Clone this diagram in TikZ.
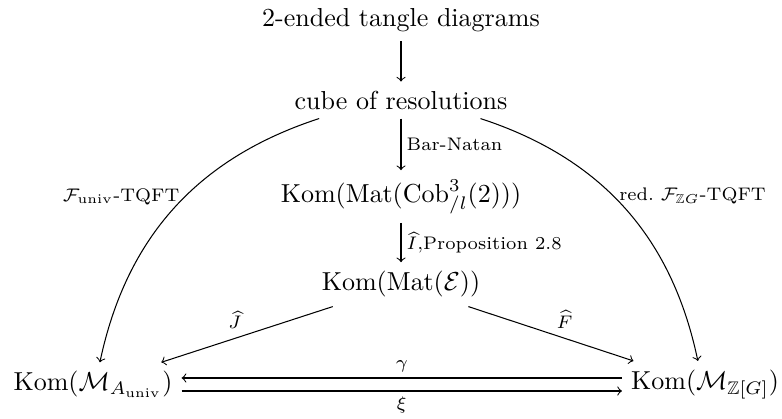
\documentclass[tikz,border=0pt]{standalone}
\usepackage{amsmath,amssymb}
\usetikzlibrary{arrows,calc}

\begin{document}
\begin{tikzpicture}[->, >=to, thin, x=0.3846pt, y=-0.3846pt]
        \tikzstyle{obj}=[inner sep=0.3333em]
        \tikzstyle{lbl}=[font=\scriptsize, inner sep=2pt]
        \useasboundingbox (0,0) rectangle (782,419);
        \node[obj]                                    (tangle) at (401,20.5) {2-ended tangle diagrams};
        \node[obj, below of=tangle, node distance=30.6pt] (cube)  {cube of resolutions};
        \node[obj, below of=cube, node distance=37.1pt]   (cob)   {$\mathrm{Kom}(\mathrm{Mat}(\mathrm{Cob}^3_{/l}(2)))$};
        \node[obj, below of=cob, node distance=33.8pt]    (mate)  {$\mathrm{Kom}(\mathrm{Mat}(\mathcal{E}))$};
        \node[obj]                                    (Auniv) at (93,384.5) {$\mathrm{Kom}(\mathcal{M}_{A_{\mathrm{univ}}})$};
        \node[obj]                                    (ZG)    at (705,384.5) {$\mathrm{Kom}(\mathcal{M}_{\mathbb{Z}[G]})$};
        \path (tangle) edge (cube);
        \path (cube) edge node[lbl, right] {Bar-Natan} (cob);
        \path (cob) edge node[lbl, right] {$\widehat{I}$,Proposition 2.8} (mate);
        \path (cube) edge [bend right=30] node[lbl, left, pos=0.45]  {$\mathcal{F}_{\mathrm{univ}}$-TQFT} (Auniv);
        \path (cube) edge [bend left=30]  node[lbl, right, pos=0.45] {red.\ $\mathcal{F}_{\mathbb{Z}G}$-TQFT} (ZG);
        \path (mate) edge node[lbl, above left]  {$\widehat{J}$} (Auniv);
        \path (mate) edge node[lbl, above right] {$\widehat{F}$} (ZG);
        \draw ([yshift=2.5pt]ZG.west) -- node[lbl, above] {$\gamma$} ([yshift=2.5pt]Auniv.east);
        \draw ([yshift=-2.5pt]Auniv.east) -- node[lbl, below] {$\xi$} ([yshift=-2.5pt]ZG.west);
      \end{tikzpicture}
\end{document}
